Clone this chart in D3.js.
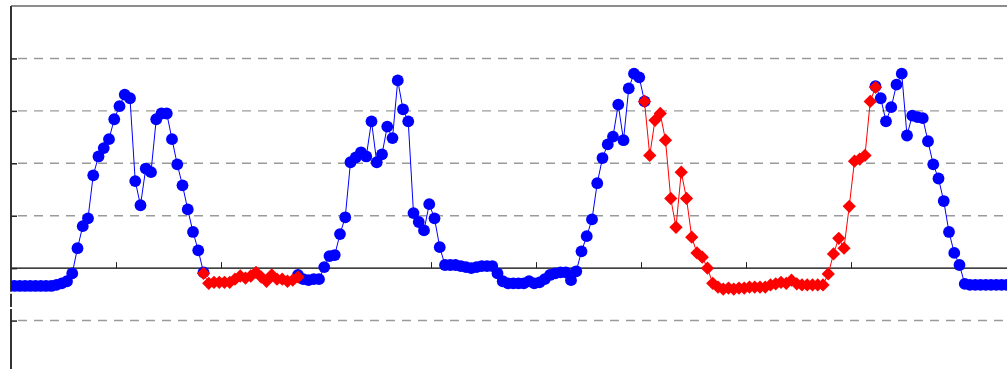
<!DOCTYPE html>
<html>
<head>
<meta charset="utf-8">
<script src="https://cdn.jsdelivr.net/npm/d3@7/dist/d3.min.js"></script>
<style>
  html, body { margin: 0; padding: 0; background: #fff; }
  svg { display: block; }
</style>
</head>
<body>
<svg id="chart" width="1007" height="369"></svg>
<script>
// Half-hourly readings over four days (index -> hour via step below)
const stepHours = 0.5;
const firstHour = 0.333;

// Primary series (blue circles); null where the secondary series takes over
const blueValues = [
  -0.34, -0.34, -0.34, -0.34, -0.34, -0.34, -0.34, -0.34, -0.32, -0.29,
  -0.25, -0.1, 0.38, 0.8, 0.95, 1.77, 2.13, 2.29, 2.46, 2.84,
  3.09, 3.31, 3.24, 1.66, 1.2, 1.9, 1.83, 2.84, 2.95, 2.95,
  2.46, 1.98, 1.58, 1.12, 0.69, 0.34, -0.08, null, null, null,
  null, null, null, null, null, null, null, null, null, null,
  null, null, null, null, -0.13, -0.21, -0.23, -0.21, -0.21, 0.02,
  0.23, 0.25, 0.65, 0.97, 2.02, 2.11, 2.21, 2.13, 2.8, 2.02,
  2.17, 2.7, 2.48, 3.58, 3.03, 2.8, 1.05, 0.88, 0.72, 1.22,
  0.95, 0.4, 0.06, 0.06, 0.06, 0.04, 0.02, 0.0, 0.02, 0.04,
  0.04, 0.04, -0.1, -0.25, -0.29, -0.29, -0.29, -0.29, -0.25, -0.29,
  -0.27, -0.21, -0.13, -0.1, -0.08, -0.08, -0.23, -0.06, 0.32, 0.61,
  0.93, 1.62, 2.1, 2.36, 2.51, 3.12, 2.44, 3.43, 3.71, 3.64,
  3.18, null, null, null, null, null, null, null, null, null,
  null, null, null, null, null, null, null, null, null, null,
  null, null, null, null, null, null, null, null, null, null,
  null, null, null, null, null, null, null, null, null, null,
  null, null, null, null, 3.47, 3.24, 2.8, 3.07, 3.5, 3.71,
  2.53, 2.91, 2.88, 2.86, 2.42, 1.98, 1.71, 1.28, 0.69, 0.29,
  0.06, -0.3, -0.32, -0.32, -0.32, -0.32, -0.32, -0.32, -0.32, -0.32
];

// Secondary series (red diamonds), two stretches with their start indices
const redNightStart = 36;
const redNightValues = [
  -0.1, -0.29, -0.27, -0.27, -0.27, -0.27, -0.21, -0.15, -0.19, -0.15,
  -0.08, -0.17, -0.25, -0.13, -0.21, -0.21, -0.25, -0.23, -0.17
];
const redDayStart = 120;
const redDayValues = [
  3.18, 2.15, 2.82, 2.95, 2.44, 1.33, 0.78, 1.83, 1.33, 0.59,
  0.29, 0.21, 0.0, -0.29, -0.36, -0.4, -0.38, -0.4, -0.38, -0.38,
  -0.36, -0.36, -0.36, -0.36, -0.32, -0.3, -0.27, -0.29, -0.23, -0.3,
  -0.32, -0.32, -0.32, -0.32, -0.32, -0.11, 0.27, 0.57, 0.38, 1.18,
  2.04, 2.08, 2.15, 3.18, 3.45
];

const xTicks = [10, 20, 30, 40, 50, 60, 70, 80, 90];
const yTicks = [-1, 0, 1, 2, 3, 4];
const gridValues = [-1, 1, 2, 3, 4];
const axisBreaks = [-0.47, -0.76];

const svg = d3.select("#chart");

const x = d3.scaleLinear().domain([0, 96]).range([11, 1019]);
const y = d3.scaleLinear().domain([-2, 5]).range([373, 6]);

const hourOf = i => firstHour + i * stepHours;

const blue = blueValues.map((v, i) => ({ t: hourOf(i), v }));
const red = Array.from({ length: blueValues.length }, (_, i) => ({ t: hourOf(i), v: null }));
redNightValues.forEach((v, k) => { red[redNightStart + k].v = v; });
redDayValues.forEach((v, k) => { red[redDayStart + k].v = v; });

svg.append("defs").append("clipPath").attr("id", "plot-clip")
  .append("rect").attr("x", x(0)).attr("y", y(5)).attr("width", 1007).attr("height", 400);

// dashed horizontal grid
svg.append("g")
  .selectAll("line")
  .data(gridValues)
  .join("line")
  .attr("x1", x(0) + 7).attr("x2", 1007)
  .attr("y1", d => y(d)).attr("y2", d => y(d))
  .attr("stroke", "#9a9a9a")
  .attr("stroke-width", 1.4)
  .attr("stroke-dasharray", "9,7");

// top frame line
svg.append("line")
  .attr("x1", x(0)).attr("x2", 1007)
  .attr("y1", y(5)).attr("y2", y(5))
  .attr("stroke", "#8c8c8c").attr("stroke-width", 2);

// zero baseline with upward ticks
const xAxis = d3.axisTop(x).tickValues(xTicks).tickSize(6).tickFormat("");
const gx = svg.append("g").attr("transform", `translate(0,${y(0)})`).call(xAxis);
gx.select(".domain").attr("d", `M${x(0)},0H1007`).attr("stroke", "#000").attr("stroke-width", 1.2);
gx.selectAll(".tick line").attr("stroke", "#222").attr("stroke-width", 1);

// left axis with inward ticks
const yAxis = d3.axisRight(y).tickValues(yTicks).tickSize(6).tickFormat("");
const gy = svg.append("g").attr("transform", `translate(${x(0)},0)`).call(yAxis);
gy.select(".domain").attr("d", `M0,${y(5)}V369`).attr("stroke", "#333").attr("stroke-width", 2);
gy.selectAll(".tick line").attr("stroke", "#222").attr("stroke-width", 1.5);

// small gaps in the left axis line
svg.append("g").selectAll("rect")
  .data(axisBreaks)
  .join("rect")
  .attr("x", x(0) - 2).attr("width", 4)
  .attr("y", d => y(d) - 1).attr("height", 2)
  .attr("fill", "#fff");

const plot = svg.append("g").attr("clip-path", "url(#plot-clip)");

const line = d3.line()
  .defined(d => d.v !== null)
  .x(d => x(d.t))
  .y(d => y(d.v));

// blue series
plot.append("path")
  .datum(blue)
  .attr("fill", "none")
  .attr("stroke", "#0000ff")
  .attr("stroke-width", 1)
  .attr("d", line);

plot.append("g")
  .selectAll("circle")
  .data(blue.filter(d => d.v !== null))
  .join("circle")
  .attr("cx", d => x(d.t))
  .attr("cy", d => y(d.v))
  .attr("r", 5.9)
  .attr("fill", "#0000ff");

// red series
plot.append("path")
  .datum(red)
  .attr("fill", "none")
  .attr("stroke", "#ff0000")
  .attr("stroke-width", 1)
  .attr("d", line);

const diamond = d3.symbol().type(d3.symbolSquare).size(88);
plot.append("g")
  .selectAll("path")
  .data(red.filter(d => d.v !== null))
  .join("path")
  .attr("d", diamond)
  .attr("transform", d => `translate(${x(d.t)},${y(d.v)}) rotate(45)`)
  .attr("fill", "#ff0000");
</script>
</body>
</html>
